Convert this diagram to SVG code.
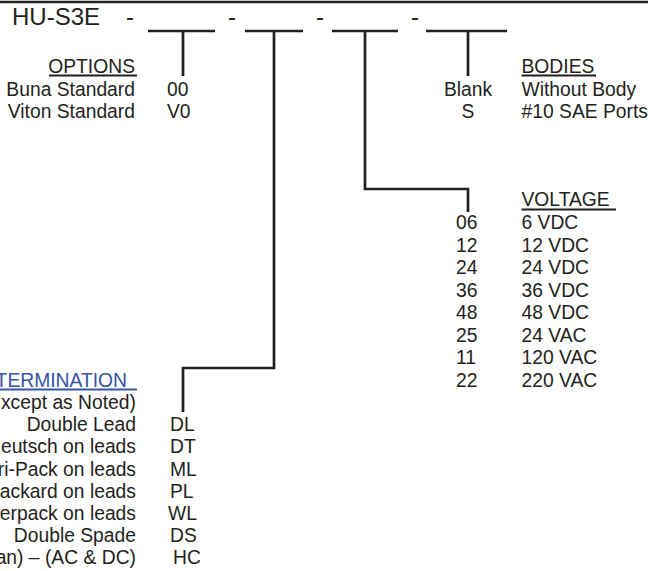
<svg xmlns="http://www.w3.org/2000/svg" width="648" height="571" viewBox="0 0 648 571">
<style>
text{font-family:"Liberation Sans",Arial,sans-serif;font-size:19.3px;fill:#231f20}
.title{font-size:24px}
.end{text-anchor:end}
.mid{text-anchor:middle}
.blue{fill:#3454a4}
.ln{fill:none;stroke:#231f20;stroke-width:2.7;stroke-linecap:butt;stroke-linejoin:miter}
.ul{stroke:#231f20;stroke-width:2.2}
.ulb{stroke:#3454a4;stroke-width:2.2}
</style>
<rect width="648" height="571" fill="#fff"/>
<g id="header">
<line class="ln" x1="0" y1="2" x2="648" y2="2"/>
<text class="title" x="12" y="25">HU-S3E</text>
<text class="title" x="126" y="25">-</text>
<text class="title" x="228" y="25">-</text>
<text class="title" x="316" y="25">-</text>
<text class="title" x="411" y="25">-</text>
<line class="ln" x1="148" y1="31" x2="215" y2="31"/>
<line class="ln" x1="245" y1="31" x2="303" y2="31"/>
<line class="ln" x1="332" y1="31" x2="398" y2="31"/>
<line class="ln" x1="426" y1="31" x2="507" y2="31"/>
</g>
<g id="connectors">
<polyline class="ln" points="183,31 183,76"/>
<polyline class="ln" points="274,31 274,368 183,368 183,412"/>
<polyline class="ln" points="365,31 365,189 468,189 468,212"/>
<polyline class="ln" points="468,31 468,76"/>
</g>
<g id="options">
<text class="end" x="135" y="73">OPTIONS</text>
<line class="ul" x1="49" y1="75.5" x2="137" y2="75.5"/>
<text class="end" x="135" y="96">Buna Standard</text>
<text x="167" y="96">00</text>
<text class="end" x="135" y="118">Viton Standard</text>
<text x="167" y="118">V0</text>
</g>
<g id="bodies">
<text x="521.5" y="73">BODIES</text>
<line class="ul" x1="521.5" y1="75.5" x2="596" y2="75.5"/>
<text class="mid" x="468" y="95.5">Blank</text>
<text x="521.5" y="95.5">Without Body</text>
<text class="mid" x="468" y="117.5">S</text>
<text x="521.5" y="117.5">#10 SAE Ports</text>
</g>
<g id="voltage">
<text x="521.5" y="206">VOLTAGE</text>
<line class="ul" x1="521.5" y1="209.5" x2="616" y2="209.5"/>
<text x="456" y="229.3">06</text><text x="521.5" y="229.3">6 VDC</text>
<text x="456" y="251.8">12</text><text x="521.5" y="251.8">12 VDC</text>
<text x="456" y="274.3">24</text><text x="521.5" y="274.3">24 VDC</text>
<text x="456" y="296.8">36</text><text x="521.5" y="296.8">36 VDC</text>
<text x="456" y="319.3">48</text><text x="521.5" y="319.3">48 VDC</text>
<text x="456" y="341.8">25</text><text x="521.5" y="341.8">24 VAC</text>
<text x="456" y="364.3">11</text><text x="521.5" y="364.3">120 VAC</text>
<text x="456" y="386.8">22</text><text x="521.5" y="386.8">220 VAC</text>
</g>
<g id="termination">
<text class="end blue" x="127" y="386.7">TERMINATION</text>
<line class="ulb" x1="0" y1="389.5" x2="137" y2="389.5"/>
<text class="end" x="136" y="408.9">xcept as Noted)</text>
<text class="end" x="136" y="431.1">Double Lead</text>
<text x="170" y="431.1">DL</text>
<text class="end" x="136" y="453.3">eutsch on leads</text>
<text x="170" y="453.3">DT</text>
<text class="end" x="136" y="475.5">ri-Pack on leads</text>
<text x="170" y="475.5">ML</text>
<text class="end" x="136" y="497.7">ackard on leads</text>
<text x="170" y="497.7">PL</text>
<text class="end" x="136" y="519.9">erpack on leads</text>
<text x="168" y="519.9">WL</text>
<text class="end" x="136" y="542.1">Double Spade</text>
<text x="170" y="542.1">DS</text>
<text class="end" x="136" y="564.3">an) – (AC &amp; DC)</text>
<text x="173" y="564.3">HC</text>
</g>
</svg>
